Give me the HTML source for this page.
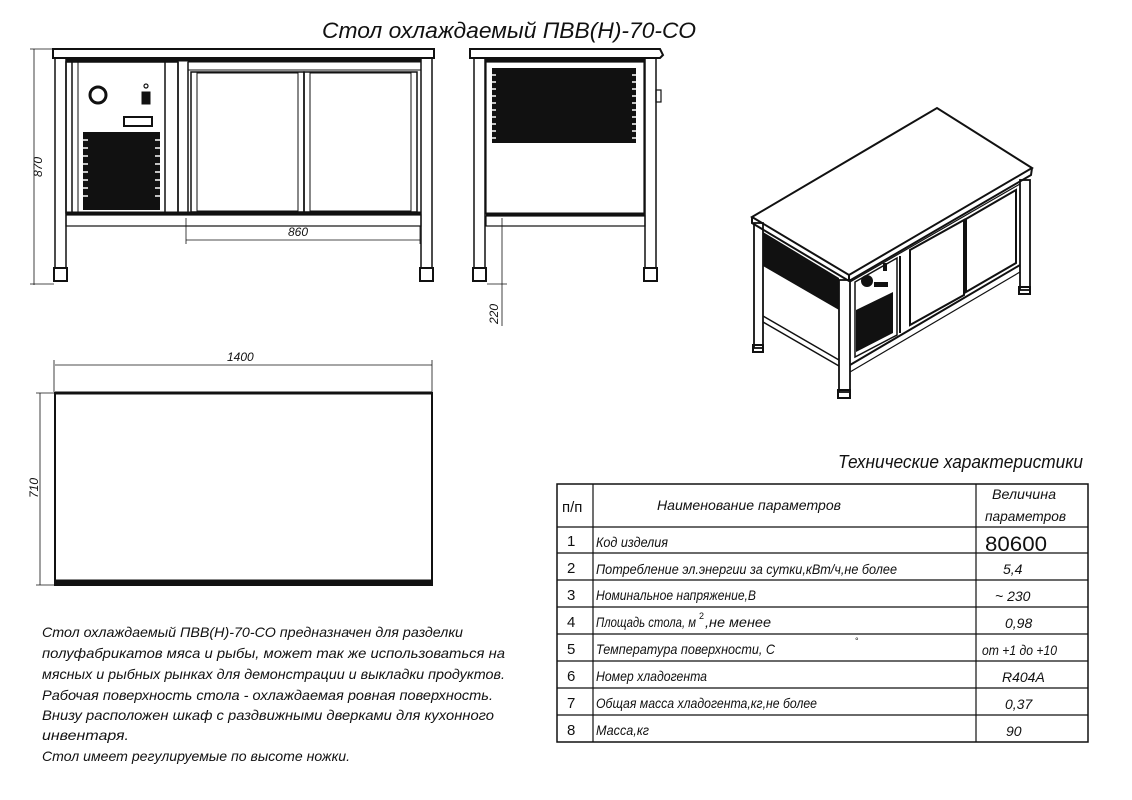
<!DOCTYPE html>
<html><head><meta charset="utf-8"><style>
html,body{margin:0;padding:0;background:#fff;width:1132px;height:800px;overflow:hidden}
svg{display:block}
text{font-family:"Liberation Sans","Noto Sans CJK SC",sans-serif;font-style:italic;fill:#111}
text.n{font-style:normal}
</style></head><body>
<svg width="1132" height="800" viewBox="0 0 1132 800" xmlns="http://www.w3.org/2000/svg">
<g fill="none" stroke="#111">
<!-- FRONT VIEW -->
<rect x="53" y="49" width="381" height="9" stroke-width="2"/>
<rect x="55" y="58" width="11" height="210" stroke-width="1.5"/>
<rect x="421" y="58" width="11" height="210" stroke-width="1.5"/>
<rect x="54" y="268" width="13" height="13" stroke-width="2"/>
<rect x="420" y="268" width="13" height="13" stroke-width="2"/>
<line x1="66" y1="60" x2="421" y2="60" stroke-width="3"/>
<rect x="66" y="62" width="112" height="151" stroke-width="1.5"/>
<line x1="72" y1="62" x2="72" y2="213" stroke-width="1.5"/>
<line x1="78" y1="62" x2="78" y2="213" stroke-width="1"/>
<line x1="165" y1="62" x2="165" y2="213" stroke-width="1.5"/>
<line x1="178" y1="62" x2="178" y2="213" stroke-width="1.5"/>
<line x1="188" y1="62" x2="188" y2="213" stroke-width="1.5"/>
<rect x="188" y="62" width="233" height="8" stroke-width="1"/>
<rect x="191" y="72" width="113" height="140" stroke-width="1.5"/>
<rect x="197" y="73" width="101" height="138" stroke-width="1"/>
<rect x="304" y="72" width="113" height="140" stroke-width="1.5"/>
<rect x="310" y="73" width="101" height="138" stroke-width="1"/>
<line x1="66" y1="213" x2="421" y2="213" stroke-width="3"/>
<rect x="66" y="215" width="355" height="11" stroke-width="1.2"/>
<circle cx="98" cy="95" r="8" stroke-width="3"/>
<rect x="142" y="92" width="8" height="12" fill="#111"/>
<circle cx="146" cy="86" r="2" stroke-width="1.2"/>
<rect x="124" y="117" width="28" height="9" stroke-width="2"/>
<rect x="83" y="132" width="77" height="78" fill="#111" stroke="none"/>
<!-- dims front -->
<line x1="34" y1="49" x2="34" y2="285" stroke-width="0.8"/>
<line x1="30" y1="49" x2="53" y2="49" stroke-width="0.8"/>
<line x1="30" y1="284" x2="54" y2="284" stroke-width="0.8"/>
<line x1="186" y1="218" x2="186" y2="244" stroke-width="0.8"/>
<line x1="186" y1="240" x2="420" y2="240" stroke-width="0.8"/>
<line x1="420" y1="226" x2="420" y2="244" stroke-width="0.8"/>
<!-- SIDE VIEW -->
<path d="M470 49 H660 L663 55 L660 58 H470 Z" stroke-width="2"/>
<rect x="474" y="58" width="11" height="210" stroke-width="1.5"/>
<rect x="645" y="58" width="11" height="210" stroke-width="1.5"/>
<rect x="473" y="268" width="13" height="13" stroke-width="2"/>
<rect x="644" y="268" width="13" height="13" stroke-width="2"/>
<line x1="485" y1="60" x2="645" y2="60" stroke-width="3"/>
<rect x="486" y="62" width="158" height="152" stroke-width="1.2"/>
<rect x="492" y="68" width="144" height="75" fill="#111" stroke="none"/>
<line x1="486" y1="214" x2="645" y2="214" stroke-width="3"/>
<rect x="486" y="216" width="159" height="10" stroke-width="1.2"/>
<rect x="656" y="90" width="5" height="12" stroke-width="1.2"/>
<line x1="502" y1="218" x2="502" y2="326" stroke-width="0.8"/>
<line x1="487" y1="284" x2="507" y2="284" stroke-width="0.8"/>
<!-- PLAN -->
<rect x="55" y="393" width="377" height="192" stroke-width="2"/>
<line x1="55" y1="393" x2="432" y2="393" stroke-width="3"/>
<line x1="55" y1="582" x2="432" y2="582" stroke-width="5"/>
<line x1="55" y1="365" x2="432" y2="365" stroke-width="0.8"/>
<line x1="54" y1="360" x2="54" y2="392" stroke-width="0.8"/>
<line x1="432" y1="360" x2="432" y2="392" stroke-width="0.8"/>
<line x1="40" y1="393" x2="40" y2="585" stroke-width="0.8"/>
<line x1="36" y1="393" x2="54" y2="393" stroke-width="0.8"/>
<line x1="36" y1="585" x2="54" y2="585" stroke-width="0.8"/>
<!-- ISO VIEW -->
<polygon points="752,217 937,108 1032,168 849,275" stroke-width="2"/>
<polyline points="752,217 752,223 849,281 1031,175 1032,168" stroke-width="2"/>
<line x1="849" y1="275" x2="849" y2="281" stroke-width="2"/>
<rect x="754" y="223" width="9" height="125" stroke-width="1.8"/>
<rect x="839" y="280" width="11" height="112" stroke-width="1.8"/>
<rect x="1020" y="180" width="10" height="110" stroke-width="1.8"/>
<rect x="838" y="390" width="12" height="8" stroke-width="2"/>
<rect x="753" y="345" width="10" height="7" stroke-width="2"/>
<rect x="1019" y="287" width="11" height="7" stroke-width="2"/>
<polygon points="763,232 839,278 839,310 763,266" fill="#111" stroke="none"/>
<polyline points="763,316 839,360" stroke-width="1.5"/>
<polyline points="763,322 839,366" stroke-width="1.5"/>
<polyline points="850,282 1020,184" stroke-width="1.2"/>
<polygon points="855,282 897,258 897,335 855,357" stroke-width="1.5"/>
<polygon points="856,310 893,292 893,333 856,352" fill="#111" stroke="none"/>
<circle cx="867" cy="281" r="6" fill="#111" stroke="none"/>
<rect x="883" y="263" width="4" height="8" fill="#111" stroke="none"/>
<rect x="874" y="282" width="14" height="5" fill="#111" stroke="none"/>
<line x1="900" y1="256" x2="900" y2="333" stroke-width="2"/>
<polygon points="910,250 964,220 964,295 910,325" stroke-width="2"/>
<polygon points="966,219 1016,190 1016,263 966,292" stroke-width="2"/>
<line x1="850" y1="365" x2="1020" y2="265" stroke-width="2"/>
<line x1="850" y1="372" x2="1020" y2="272" stroke-width="1.2"/>
<!-- TABLE -->
<rect x="557" y="484" width="531" height="258" stroke-width="1.5"/>
<line x1="593" y1="484" x2="593" y2="742" stroke-width="1.2"/>
<line x1="976" y1="484" x2="976" y2="742" stroke-width="1.2"/>
<g stroke-width="1.2">
<line x1="557" y1="527" x2="1088" y2="527"/>
<line x1="557" y1="553" x2="1088" y2="553"/>
<line x1="557" y1="580" x2="1088" y2="580"/>
<line x1="557" y1="607" x2="1088" y2="607"/>
<line x1="557" y1="634" x2="1088" y2="634"/>
<line x1="557" y1="661" x2="1088" y2="661"/>
<line x1="557" y1="688" x2="1088" y2="688"/>
<line x1="557" y1="715" x2="1088" y2="715"/>
</g>
</g>
<g stroke="#fff" stroke-width="1.5">
<line x1="83" y1="140" x2="88" y2="140"/><line x1="83" y1="148" x2="88" y2="148"/><line x1="83" y1="156" x2="88" y2="156"/><line x1="83" y1="164" x2="88" y2="164"/><line x1="83" y1="172" x2="88" y2="172"/><line x1="83" y1="180" x2="88" y2="180"/><line x1="83" y1="188" x2="88" y2="188"/><line x1="83" y1="196" x2="88" y2="196"/>
<line x1="155" y1="140" x2="160" y2="140"/><line x1="155" y1="148" x2="160" y2="148"/><line x1="155" y1="156" x2="160" y2="156"/><line x1="155" y1="164" x2="160" y2="164"/><line x1="155" y1="172" x2="160" y2="172"/><line x1="155" y1="180" x2="160" y2="180"/><line x1="155" y1="188" x2="160" y2="188"/><line x1="155" y1="196" x2="160" y2="196"/>
<line x1="492" y1="75" x2="496" y2="75"/><line x1="492" y1="82" x2="496" y2="82"/><line x1="492" y1="89" x2="496" y2="89"/><line x1="492" y1="96" x2="496" y2="96"/><line x1="492" y1="103" x2="496" y2="103"/><line x1="492" y1="110" x2="496" y2="110"/><line x1="492" y1="117" x2="496" y2="117"/><line x1="492" y1="124" x2="496" y2="124"/><line x1="492" y1="131" x2="496" y2="131"/><line x1="492" y1="138" x2="496" y2="138"/>
<line x1="632" y1="75" x2="636" y2="75"/><line x1="632" y1="82" x2="636" y2="82"/><line x1="632" y1="89" x2="636" y2="89"/><line x1="632" y1="96" x2="636" y2="96"/><line x1="632" y1="103" x2="636" y2="103"/><line x1="632" y1="110" x2="636" y2="110"/><line x1="632" y1="117" x2="636" y2="117"/><line x1="632" y1="124" x2="636" y2="124"/><line x1="632" y1="131" x2="636" y2="131"/><line x1="632" y1="138" x2="636" y2="138"/>
</g>
<!-- TEXT -->
<text x="322" y="38" font-size="22" textLength="374" lengthAdjust="spacingAndGlyphs">Стол охлаждаемый ПВВ(Н)-70-СО</text>
<text x="288" y="236" font-size="12">860</text>
<text transform="translate(42,177) rotate(-90)" font-size="12">870</text>
<text transform="translate(498,324) rotate(-90)" font-size="12">220</text>
<text x="227" y="361" font-size="12">1400</text>
<text transform="translate(38,498) rotate(-90)" font-size="12">710</text>
<text x="838" y="468" font-size="18" textLength="245" lengthAdjust="spacingAndGlyphs">Технические характеристики</text>
<g font-size="14">
<text x="42" y="637" textLength="421" lengthAdjust="spacingAndGlyphs">Стол охлаждаемый ПВВ(Н)-70-СО предназначен для разделки</text>
<text x="42" y="658" textLength="463" lengthAdjust="spacingAndGlyphs">полуфабрикатов мяса и рыбы, может так же использоваться на</text>
<text x="42" y="679" textLength="463" lengthAdjust="spacingAndGlyphs">мясных и рыбных рынках для демонстрации и выкладки продуктов.</text>
<text x="42" y="700" textLength="451" lengthAdjust="spacingAndGlyphs">Рабочая поверхность стола - охлаждаемая ровная поверхность.</text>
<text x="42" y="720" textLength="452" lengthAdjust="spacingAndGlyphs">Внизу расположен шкаф с раздвижными дверками для кухонного</text>
<text x="42" y="740" textLength="87" lengthAdjust="spacingAndGlyphs">инвентаря.</text>
<text x="42" y="761" textLength="308" lengthAdjust="spacingAndGlyphs">Стол имеет регулируемые по высоте ножки.</text>
</g>
<g font-size="14">
<text class="n" x="562" y="512" font-size="15">п/п</text>
<text x="657" y="510" textLength="184" lengthAdjust="spacingAndGlyphs">Наименование параметров</text>
<text x="992" y="499" textLength="64" lengthAdjust="spacingAndGlyphs">Величина</text>
<text x="985" y="521" textLength="81" lengthAdjust="spacingAndGlyphs">параметров</text>
<g font-size="15">
<text class="n" x="567" y="546">1</text><text class="n" x="567" y="573">2</text><text class="n" x="567" y="600">3</text><text class="n" x="567" y="627">4</text>
<text class="n" x="567" y="654">5</text><text class="n" x="567" y="681">6</text><text class="n" x="567" y="708">7</text><text class="n" x="567" y="735">8</text>
</g>
<text x="596" y="547" textLength="72" lengthAdjust="spacingAndGlyphs">Код изделия</text>
<text x="596" y="574" textLength="301" lengthAdjust="spacingAndGlyphs">Потребление эл.энергии за сутки,кВт/ч,не более</text>
<text x="596" y="600" textLength="160" lengthAdjust="spacingAndGlyphs">Номинальное напряжение,В</text>
<text x="596" y="627" textLength="100" lengthAdjust="spacingAndGlyphs">Площадь стола, м</text>
<text class="n" x="699" y="619" font-size="9">2</text>
<text x="705" y="627" textLength="66" lengthAdjust="spacingAndGlyphs">,не менее</text>
<text x="596" y="654" textLength="179" lengthAdjust="spacingAndGlyphs">Температура поверхности,  С</text>
<text class="n" x="855" y="644" font-size="9">°</text>
<text x="596" y="681" textLength="111" lengthAdjust="spacingAndGlyphs">Номер хладогента</text>
<text x="596" y="708" textLength="221" lengthAdjust="spacingAndGlyphs">Общая масса хладогента,кг,не более</text>
<text x="596" y="735" textLength="53" lengthAdjust="spacingAndGlyphs">Масса,кг</text>
<text class="n" x="985" y="551" font-size="21" textLength="62" lengthAdjust="spacingAndGlyphs">80600</text>
<text x="1003" y="574">5,4</text>
<text x="995" y="601">~ 230</text>
<text x="1005" y="628">0,98</text>
<text x="982" y="655" textLength="75" lengthAdjust="spacingAndGlyphs">от +1 до +10</text>
<text x="1002" y="682">R404A</text>
<text x="1005" y="709">0,37</text>
<text x="1006" y="736">90</text>
</g>
</svg>
</body></html>
